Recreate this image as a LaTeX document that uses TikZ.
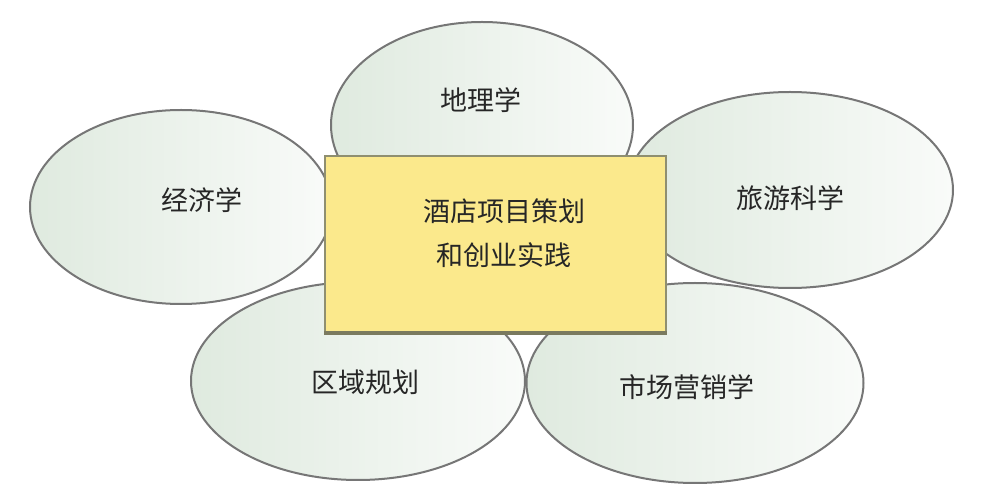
\documentclass[tikz,border=0pt]{standalone}
\usepackage{fontspec}
\setmainfont{Noto Sans CJK SC}
\usetikzlibrary{shapes.geometric}
\definecolor{mint}{HTML}{DFEADF}
\definecolor{mintwhite}{HTML}{F9FBF9}
\definecolor{rimgray}{HTML}{767676}
\definecolor{boxyellow}{HTML}{FBE98C}
\definecolor{boxrim}{HTML}{8F8F70}

\begin{document}
\begin{tikzpicture}[x=1pt, y=-1pt,
    field/.style={ellipse, draw=rimgray, line width=2pt, left color=mint, right color=mintwhite, inner sep=0pt},
    hubbox/.style={rectangle, draw=boxrim, line width=2pt, fill=boxyellow, inner sep=0pt},
    lbl/.style={font=\fontsize{27}{44}\selectfont, text=black!85}]
    \useasboundingbox (0,0) rectangle (986,502);

    % Fields around the project
    \node[field, minimum width=302pt, minimum height=206pt] (geo) at (482,125) {};
    \node[field, minimum width=302pt, minimum height=194pt] (econ) at (181,207) {};
    \node[field, minimum width=326pt, minimum height=196pt] (tour) at (790,190) {};
    \node[field, minimum width=334pt, minimum height=198pt] (region) at (358,381) {};
    \node[field, minimum width=337pt, minimum height=200pt] (market) at (695,383) {};

    % Field names
    \node[lbl] (geo-t) at (481,100) {地理学};
    \node[lbl] (econ-t) at (202,200) {经济学};
    \node[lbl] (tour-t) at (790,198) {旅游科学};
    \node[lbl] (region-t) at (365,382) {区域规划};
    \node[lbl] (market-t) at (687,387) {市场营销学};

    % Central project
    \node[hubbox, minimum width=341pt, minimum height=178pt] (hub) at (495.5,245) {};
    \draw[boxrim!85!black, line width=4pt] ([yshift=2pt]hub.south west) -- ([yshift=2pt]hub.south east);
    \node[lbl, align=center] (hub-t) at (504,233) {酒店项目策划\\和创业实践};
\end{tikzpicture}
\end{document}
